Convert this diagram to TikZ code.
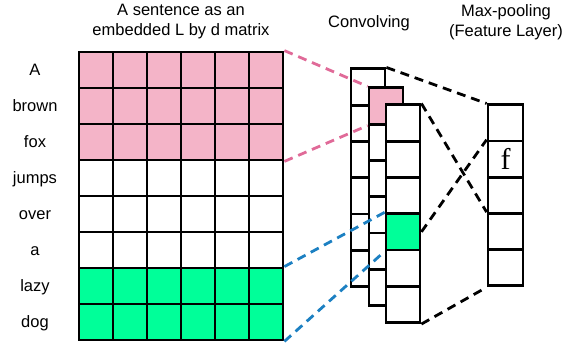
\documentclass[tikz,border=0pt]{standalone}
\usepackage{fontspec}
\setsansfont{Liberation Sans}
\newfontfamily\ffont{Liberation Serif}
\definecolor{cellpink}{HTML}{F4B4C8}
\definecolor{cellgreen}{HTML}{00FF99}
\definecolor{linkpink}{HTML}{E06A98}
\definecolor{linkblue}{HTML}{1C80C2}

\begin{document}
\begin{tikzpicture}[x=1pt,y=-1pt,
   font=\sffamily\fontsize{16.5}{20}\selectfont,
   cell/.style={draw,line width=2.8pt,fill=white,minimum width=34pt,minimum height=36pt,inner sep=0pt},
   conv/.style={cell,minimum height=36.3pt},
   word/.style={inner sep=0pt,text height=12pt,text depth=3.5pt},
   link/.style={line width=2.8pt,dash pattern=on 9pt off 6pt}]
\useasboundingbox (0,0) rectangle (565,347);

% the sentence matrix
\foreach \r in {0,...,7}
  \foreach \c in {0,...,5}
    \node[cell] (m\r-\c) at (96+34*\c,70+36*\r) {};
\foreach \r in {0,1,2}
  \foreach \c in {0,...,5}
    \node[cell,fill=cellpink] at (m\r-\c) {};
\foreach \r in {6,7}
  \foreach \c in {0,...,5}
    \node[cell,fill=cellgreen] at (m\r-\c) {};
\foreach \w [count=\r from 0] in {A,brown,fox,jumps,over,a,lazy,dog}
  \node[word] (w\r) at (35,71.5+36*\r) {\w};
\node[align=center] (title) at (181,22) {A sentence as an\\embedded L by d matrix};

% convolving filters
\foreach \i in {0,...,5}
  \node[conv] (back\i) at (368,87+36.3*\i) {};
\foreach \i in {0,...,5}
  \node[conv] (mid\i) at (386,106+36.3*\i) {};
\node[conv,fill=cellpink] at (mid0) {};
\foreach \i in {0,...,5}
  \node[conv] (front\i) at (403,123+36.3*\i) {};
\node[conv,fill=cellgreen] at (front3) {};
\node (convlabel) at (369,23) {Convolving};

% max-pooling
\foreach \i in {0,...,4}
  \node[cell,minimum width=35pt,minimum height=36.2pt] (pool\i) at (505.5,123+36.2*\i) {};
\node[font=\ffont\fontsize{30}{30}\selectfont] (f) at (pool1) {f};
\node[align=center] (poollabel) at (506,22) {Max-pooling\\(Feature Layer)};

% connectors
\draw[link,linkpink] (m0-5.north east) -- (mid0.north west);
\draw[link,linkpink] (m2-5.south east) -- (mid0.south west);
\draw[link,linkblue] (m6-5.north east) -- (front3.north west);
\draw[link,linkblue] (m7-5.south east) -- (front3.south west);
\draw[link] (back0.north east) -- (pool0.north west);
\draw[link] (front0.north east) -- (pool3.north west);
\draw[link] (front3.east) -- (pool1.north west);
\draw[link] (front5.south east) -- (pool4.south west);
\end{tikzpicture}
\end{document}
